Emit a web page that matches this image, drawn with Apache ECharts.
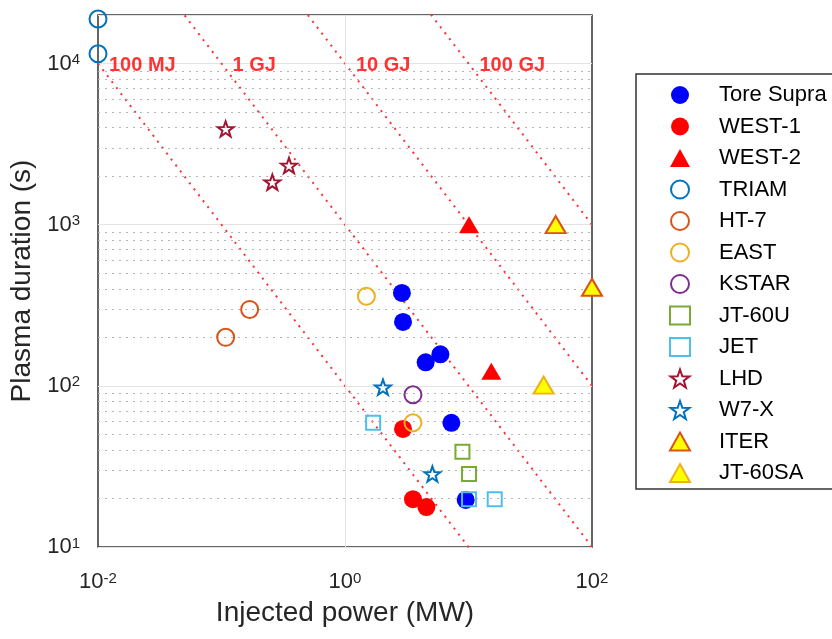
<!DOCTYPE html>
<html>
<head>
<meta charset="utf-8">
<script src="https://cdn.jsdelivr.net/npm/echarts@6/dist/echarts.min.js"></script>
<style>
html,body{margin:0;padding:0;background:#fff;}
#chart{width:832px;height:639px;}
</style>
</head>
<body>
<div id="chart"></div>
<script>
// ---- axis ranges ----
const xMin = 0.01, xMax = 100;
const yMin = 10, yMax = 20000;

// ---- data: [injected power (MW), plasma duration (s)] ----
const toreSupra = [[2.89, 377], [2.95, 249], [4.5, 140], [5.92, 157], [7.27, 59], [9.49, 19.6]];
const west1 = [[2.95, 54], [3.55, 19.8], [4.56, 17.7]];
const west2 = [[10.1, 1000], [15.3, 123]];
const triam = [[0.01, 18900], [0.01, 11500]];
const ht7 = [[0.108, 200], [0.169, 298]];
const east = [[1.49, 360], [3.55, 59]];
const kstar = [[3.55, 88]];
const jt60u = [[8.93, 39], [10.1, 28.4]];
const jet = [[1.69, 59], [10.1, 19.8], [16.3, 19.8]];
const lhd = [[0.108, 3930], [0.258, 1836], [0.352, 2330]];
const w7x = [[2.03, 98], [5.1, 28.4]];
const iter = [[50.8, 1000], [100, 409]];
const jt60sa = [[40.6, 101]];

// ---- constant-energy lines (MJ) and their labels ----
const energies = [100, 1000, 10000, 100000];
const energyNames = ['100 MJ', '1 GJ', '10 GJ', '100 GJ'];
const energyLabelTime = 10000;

// ---- minor gridlines of the duration axis ----
const minorY = [20, 30, 40, 50, 60, 70, 80, 90,
                200, 300, 400, 500, 600, 700, 800, 900,
                2000, 3000, 4000, 5000, 6000, 7000, 8000, 9000];
const majorX = [1];

const FONT = '"Liberation Sans", Arial, Helvetica, sans-serif';
const STAR = 'path://M0,-10 L2.35,-3.24 L9.51,-3.09 L3.8,1.24 L5.88,8.09 L0,4 L-5.88,8.09 L-3.8,1.24 L-9.51,-3.09 L-2.35,-3.24 Z';

function openStyle(c) {
  return { color: 'rgba(255,255,255,0)', borderColor: c, borderWidth: 2, opacity: 1 };
}

const seriesDefs = [
  { name: 'Tore Supra', data: toreSupra, symbol: 'circle', size: 18, style: { color: '#0000ff', opacity: 1 } },
  { name: 'WEST-1', data: west1, symbol: 'circle', size: 18, style: { color: '#ff0000', opacity: 1 } },
  { name: 'WEST-2', data: west2, symbol: 'triangle', size: [20, 17], style: { color: '#ff0000', opacity: 1 } },
  { name: 'TRIAM', data: triam, symbol: 'circle', size: 17, style: openStyle('#0072BD') },
  { name: 'HT-7', data: ht7, symbol: 'circle', size: 17, style: openStyle('#D95319') },
  { name: 'EAST', data: east, symbol: 'circle', size: 17, style: openStyle('#EDB120') },
  { name: 'KSTAR', data: kstar, symbol: 'circle', size: 17, style: openStyle('#7E2F8E') },
  { name: 'JT-60U', data: jt60u, symbol: 'rect', size: 14, style: openStyle('#77AC30') },
  { name: 'JET', data: jet, symbol: 'rect', size: 14, style: openStyle('#4DBEEE') },
  { name: 'LHD', data: lhd, symbol: STAR, size: 16, style: openStyle('#A2142F') },
  { name: 'W7-X', data: w7x, symbol: STAR, size: 16, style: openStyle('#0072BD') },
  { name: 'ITER', data: iter, symbol: 'triangle', size: [20, 17], style: { color: '#ffff00', borderColor: '#D95319', borderWidth: 2, opacity: 1 } },
  { name: 'JT-60SA', data: jt60sa, symbol: 'triangle', size: [20, 17], style: { color: '#ffff00', borderColor: '#EDB120', borderWidth: 2, opacity: 1 } }
];

function powLabel(v, onlyEven) {
  const l = Math.log10(v);
  const e = Math.round(l);
  if (Math.abs(l - e) > 1e-6) return '';
  if (onlyEven && e % 2 !== 0) return '';
  return '{b|10}{s|' + e + '}';
}
const richLabel = {
  b: { fontSize: 22, lineHeight: 22, padding: [8, 0, 0, 0], verticalAlign: 'bottom', fontFamily: FONT, color: '#262626' },
  s: { fontSize: 15, lineHeight: 20, verticalAlign: 'top', fontFamily: FONT, color: '#262626' }
};

const series = [];

// helper series for gridlines
series.push({
  name: 'grid-helper', type: 'line', data: [], z: 1, silent: true,
  markLine: {
    silent: true, symbol: ['none', 'none'], animation: false,
    label: { show: false },
    data: minorY.map(v => ({ yAxis: v, lineStyle: { color: '#b5b5b5', width: 1, type: [2, 5] } }))
      .concat(majorX.map(v => ({ xAxis: v, lineStyle: { color: '#e3e3e3', width: 1, type: 'solid' } })))
  }
});

// constant energy lines
energies.forEach((E, i) => {
  series.push({
    name: energyNames[i], type: 'line', z: 2, silent: true, clip: true,
    symbol: 'none',
    lineStyle: { color: '#ff3030', width: 2, type: [2, 5.5] },
    data: [[xMin, E / xMin], [xMax, E / xMax]]
  });
});

// energy labels
series.push({
  name: 'energy-labels', type: 'scatter', z: 3, silent: true, clip: false,
  symbolSize: 0,
  data: energies.map((E, i) => ({ value: [E / energyLabelTime, energyLabelTime], name: energyNames[i] })),
  label: {
    show: true, position: 'right', distance: 11, offset: [0, 2],
    formatter: p => p.name,
    color: '#ff0000', fontWeight: 'bold', fontSize: 20, fontFamily: FONT
  }
});

seriesDefs.forEach((d, i) => {
  series.push({
    name: d.name, type: 'scatter', z: 10 + i, clip: false,
    symbol: d.symbol, symbolSize: d.size, symbolKeepAspect: true,
    itemStyle: d.style,
    data: d.data
  });
});

const chart = echarts.init(document.getElementById('chart'), null, { renderer: 'canvas' });
chart.setOption({
  animation: false,
  backgroundColor: '#ffffff',
  grid: { left: 98, top: 15, width: 494, height: 532, show: true, borderColor: '#333333', borderWidth: 1.5, backgroundColor: 'transparent' },
  xAxis: {
    type: 'log', logBase: 10, min: xMin, max: xMax,
    name: 'Injected power (MW)', nameLocation: 'middle', nameGap: 52,
    nameTextStyle: { fontSize: 28, fontFamily: FONT, color: '#262626' },
    axisLine: { show: false }, axisTick: { show: false },
    splitLine: { show: false },
    axisLabel: { margin: 24, formatter: v => powLabel(v, true), rich: richLabel }
  },
  yAxis: {
    type: 'log', logBase: 10, min: yMin, max: yMax,
    name: 'Plasma duration (s)', nameLocation: 'middle', nameGap: 56,
    nameTextStyle: { fontSize: 28, fontFamily: FONT, color: '#262626' },
    axisLine: { show: false }, axisTick: { show: false },
    splitLine: { show: true, lineStyle: { color: '#e3e3e3', width: 1 } },
    axisLabel: { margin: 18, formatter: v => powLabel(v, false), rich: richLabel }
  },
  legend: {
    orient: 'vertical', left: 636, top: 74,
    data: seriesDefs.map(d => d.name),
    itemWidth: 20, itemHeight: 18, itemGap: 9.5,
    padding: [10, 12, 5, 33],
    borderColor: '#333333', borderWidth: 1.5, backgroundColor: '#ffffff',
    textStyle: { fontSize: 22, lineHeight: 22, fontFamily: FONT, color: '#000000', padding: [0, 0, 0, 24] },
    selectedMode: false
  },
  series: series
});
</script>
</body>
</html>
